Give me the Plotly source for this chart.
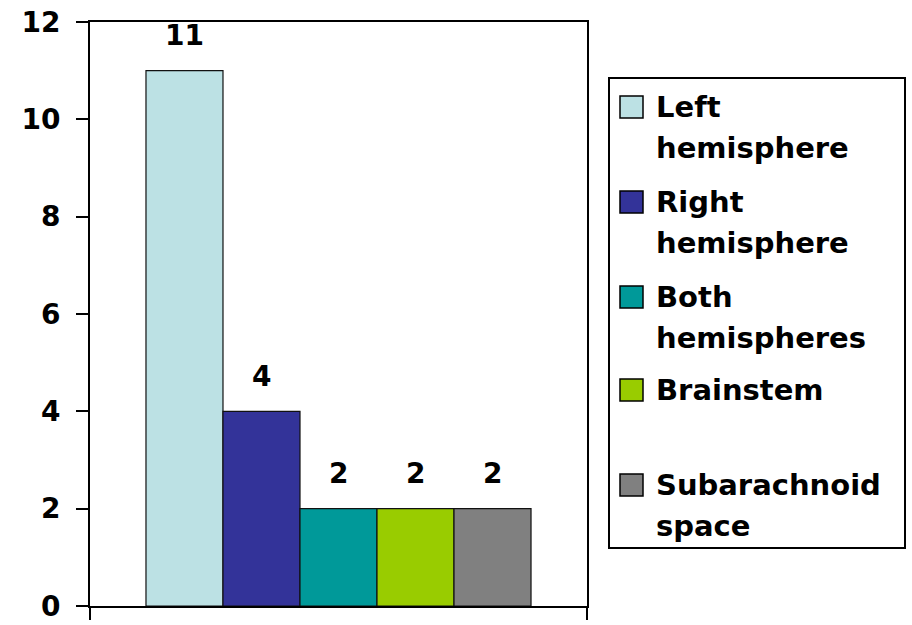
import plotly.graph_objects as go

# Lesion location counts
locations = ["Left hemisphere", "Right hemisphere", "Both hemispheres", "Brainstem", "Subarachnoid space"]
legend_lines = [["Left", "hemisphere"], ["Right", "hemisphere"], ["Both", "hemispheres"],
                ["Brainstem", ""], ["Subarachnoid", "space"]]
counts = [11, 4, 2, 2, 2]
colors = ["#BCE1E4", "#333399", "#009999", "#99CC00", "#808080"]
y_ticks = [0, 2, 4, 6, 8, 10, 12]

W, H = 912, 625
L, R, T, B = 90, 325, 22, 19
PW, PH = W - L - R, H - T - B
FONT = "DejaVu Sans"


def px(x):
    return (x - L) / PW


def py(y):
    return (H - B - y) / PH


fig = go.Figure()
for i, (name, v, c) in enumerate(zip(locations, counts, colors)):
    fig.add_trace(go.Bar(
        x=[i], y=[v], width=1, name=name,
        marker=dict(color=c, line=dict(color="#111111", width=1.2)),
        showlegend=False,
    ))
    fig.add_annotation(x=i, y=v, text=f"<b>{v}</b>", showarrow=False,
                       yshift=35, font=dict(family=FONT, size=28, color="black"))

x_lo, x_hi = -1.227, 5.227

fig.update_layout(
    width=W, height=H,
    margin=dict(l=L, r=R, t=T, b=B, pad=0, autoexpand=False),
    paper_bgcolor="white", plot_bgcolor="white",
    barmode="overlay",
    showlegend=False,
    xaxis=dict(range=[x_lo, x_hi], tickvals=[x_lo, x_hi], showticklabels=False,
               ticks="outside", ticklen=12, tickwidth=2, tickcolor="black",
               showline=True, linecolor="black", linewidth=2, mirror=True,
               showgrid=False, zeroline=False, fixedrange=True, automargin=False),
    yaxis=dict(range=[0, 12], tickvals=y_ticks,
               ticktext=[f"<b>{t}</b>" for t in y_ticks],
               ticks="outside", ticklen=12, tickwidth=2, tickcolor="black",
               tickfont=dict(family=FONT, size=28, color="black"),
               ticklabelstandoff=10,
               showline=True, linecolor="black", linewidth=2, mirror=True,
               showgrid=False, zeroline=False, fixedrange=True, automargin=False),
)

# Legend panel
fig.add_shape(type="rect", xref="paper", yref="paper",
              x0=px(609), x1=px(905), y0=py(78), y1=py(548),
              line=dict(color="black", width=2), fillcolor="white", layer="below")

first_line_y = [107, 202, 297, 390, 485]
line_gap = 41
for lines, c, yc in zip(legend_lines, colors, first_line_y):
    fig.add_shape(type="rect", xref="paper", yref="paper",
                  x0=px(620), x1=px(643), y0=py(yc - 11), y1=py(yc + 11),
                  line=dict(color="black", width=1.5), fillcolor=c)
    for k, line in enumerate(lines):
        if not line:
            continue
        fig.add_annotation(xref="paper", yref="paper", x=px(654), y=py(yc + k * line_gap),
                           xanchor="left", yanchor="middle", showarrow=False,
                           text=f"<b>{line}</b>",
                           font=dict(family=FONT, size=29, color="black"))

fig.write_html("out.html")
